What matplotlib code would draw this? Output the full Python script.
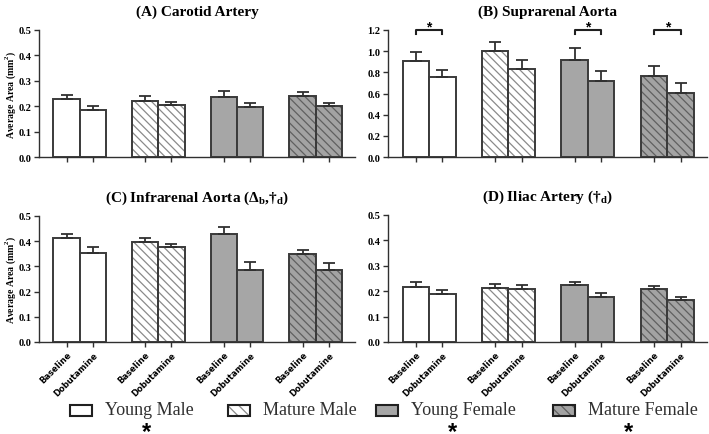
import matplotlib.pyplot as plt
from matplotlib.patches import Rectangle

# groups and conditions
groups = ['Young Male', 'Mature Male', 'Young Female', 'Mature Female']
conditions = ['Baseline', 'Dobutamine']

# bar order: YM base, YM dob, MM base, MM dob, YF base, YF dob, MF base, MF dob
carotid_mean = [0.230, 0.184, 0.221, 0.205, 0.237, 0.196, 0.241, 0.202]
carotid_err = [0.016, 0.017, 0.020, 0.013, 0.021, 0.018, 0.013, 0.012]
suprarenal_mean = [0.905, 0.757, 0.999, 0.833, 0.920, 0.719, 0.767, 0.609]
suprarenal_err = [0.085, 0.069, 0.085, 0.087, 0.107, 0.098, 0.097, 0.092]
infrarenal_mean = [0.413, 0.354, 0.397, 0.376, 0.429, 0.287, 0.351, 0.287]
infrarenal_err = [0.017, 0.022, 0.015, 0.011, 0.026, 0.030, 0.016, 0.026]
iliac_mean = [0.215, 0.188, 0.214, 0.207, 0.223, 0.176, 0.207, 0.164]
iliac_err = [0.021, 0.018, 0.013, 0.016, 0.013, 0.016, 0.013, 0.014]

suprarenal_sig = [0, 2, 3]          # groups with * bracket in panel B
legend_sig = ['Young Male', 'Young Female', 'Mature Female']

positions = [0, 1, 3, 4, 6, 7, 9, 10]

fills = ['white', 'white', '#a6a6a6', '#a3a3a3']
hatches = [None, '\\\\\\\\', None, '\\\\\\\\']
hatch_cols = ['#404040', '#8a8a8a', '#404040', '#606060']
edge = '#3a3a3a'

plt.rcParams['font.family'] = 'Liberation Serif'
plt.rcParams['mathtext.fontset'] = 'custom'
plt.rcParams['mathtext.rm'] = 'Liberation Serif'
plt.rcParams['mathtext.bf'] = 'Liberation Serif:bold'
plt.rcParams['hatch.linewidth'] = 0.9

fig = plt.figure(figsize=(7.09, 4.35), dpi=100)
W, H = 709, 435


def px_axes(left, top, right, bottom):
    return fig.add_axes([left / W, 1 - bottom / H, (right - left) / W, (bottom - top) / H])


def draw_panel(ax, means, errs, ymax, step, title, ylabel=False, xlabels=False):
    for i, (x, m) in enumerate(zip(positions, means)):
        g = i // 2
        if hatches[g]:
            ax.bar(x, m, width=1.0, color=fills[g], hatch=hatches[g],
                   edgecolor=hatch_cols[g], linewidth=0, zorder=2)
            ax.bar(x, m, width=1.0, color='none', edgecolor=edge, linewidth=1.4, zorder=3)
        else:
            ax.bar(x, m, width=1.0, color=fills[g], edgecolor=edge, linewidth=1.4, zorder=3)
    ax.errorbar(positions, means, yerr=[[0] * len(errs), errs], fmt='none',
                ecolor='#303030', elinewidth=1.3, capsize=4.5, capthick=1.3, zorder=4)
    ax.set_xlim(-1.05, 11.0)
    ax.set_ylim(0, ymax)
    n = int(round(ymax / step))
    ax.set_yticks([k * step for k in range(n + 1)])
    ax.set_yticklabels([f'{k * step:.1f}' for k in range(n + 1)],
                       fontsize=7.5, fontweight='bold')
    ax.set_xticks(positions)
    if xlabels:
        ax.set_xticklabels(conditions * 4, rotation=45, ha='right', rotation_mode='anchor',
                           fontsize=6, fontweight='bold', family='DejaVu Sans')
    else:
        ax.set_xticklabels([])
    ax.tick_params(length=3.5, width=1, color='#303030', pad=2)
    for s in ['top', 'right']:
        ax.spines[s].set_visible(False)
    for s in ['left', 'bottom']:
        ax.spines[s].set_linewidth(1)
        ax.spines[s].set_color('#303030')
    ax.set_title(title, fontsize=11, fontweight='bold', y=1.0, pad=11)
    if ylabel:
        ax.set_ylabel('Average Area (mm$^\\mathbf{2}$)', fontsize=7, fontweight='bold')
        ax.yaxis.set_label_coords(-0.066, 0.5)


axA = px_axes(39, 31, 355, 158)
axB = px_axes(388, 31, 707, 158)
axC = px_axes(39, 217, 355, 343)
axD = px_axes(388, 216, 707, 343)

draw_panel(axA, carotid_mean, carotid_err, 0.5, 0.1, '(A) Carotid Artery', ylabel=True)
draw_panel(axB, suprarenal_mean, suprarenal_err, 1.2, 0.2, '(B) Suprarenal Aorta')
draw_panel(axC, infrarenal_mean, infrarenal_err, 0.5, 0.1,
           '(C) Infrarenal Aorta (Δ$_\\mathbf{b}$,†$_\\mathbf{d}$)', ylabel=True, xlabels=True)
draw_panel(axD, iliac_mean, iliac_err, 0.5, 0.1,
           '(D) Iliac Artery (†$_\\mathbf{d}$)', xlabels=True)

# significance brackets in panel B
for g in suprarenal_sig:
    x0, x1 = positions[2 * g], positions[2 * g + 1]
    axB.plot([x0, x0, x1, x1], [1.16, 1.2, 1.2, 1.16], color='#202020', lw=1.5,
             clip_on=False, zorder=5)
    axB.text((x0 + x1) / 2, 1.235, '*', ha='center', va='center', fontsize=10,
             fontweight='bold', family='Liberation Sans', clip_on=False)

# legend at bottom
box_x = [70, 228, 376, 553]
star_x = [147, 0, 452, 628]
for g, name in enumerate(groups):
    bx = box_x[g]
    if hatches[g]:
        fig.patches.append(Rectangle((bx / W, 1 - 417 / H), 22 / W, 11 / H,
                                     transform=fig.transFigure, facecolor=fills[g],
                                     hatch='\\\\\\', edgecolor=hatch_cols[g], linewidth=0))
    fig.patches.append(Rectangle((bx / W, 1 - 417 / H), 22 / W, 11 / H,
                                 transform=fig.transFigure,
                                 facecolor=fills[g] if not hatches[g] else 'none',
                                 edgecolor='#202020', linewidth=1.5))
    fig.text((bx + 35) / W, 1 - 411 / H, name, fontsize=13, ha='left', va='center',
             color='#303030')
    if name in legend_sig:
        fig.text(star_x[g] / W, 1 - 421 / H, '*', fontsize=17, fontweight='bold',
                 family='Liberation Sans', ha='center', va='top')

fig.savefig('out.png', dpi=100)
